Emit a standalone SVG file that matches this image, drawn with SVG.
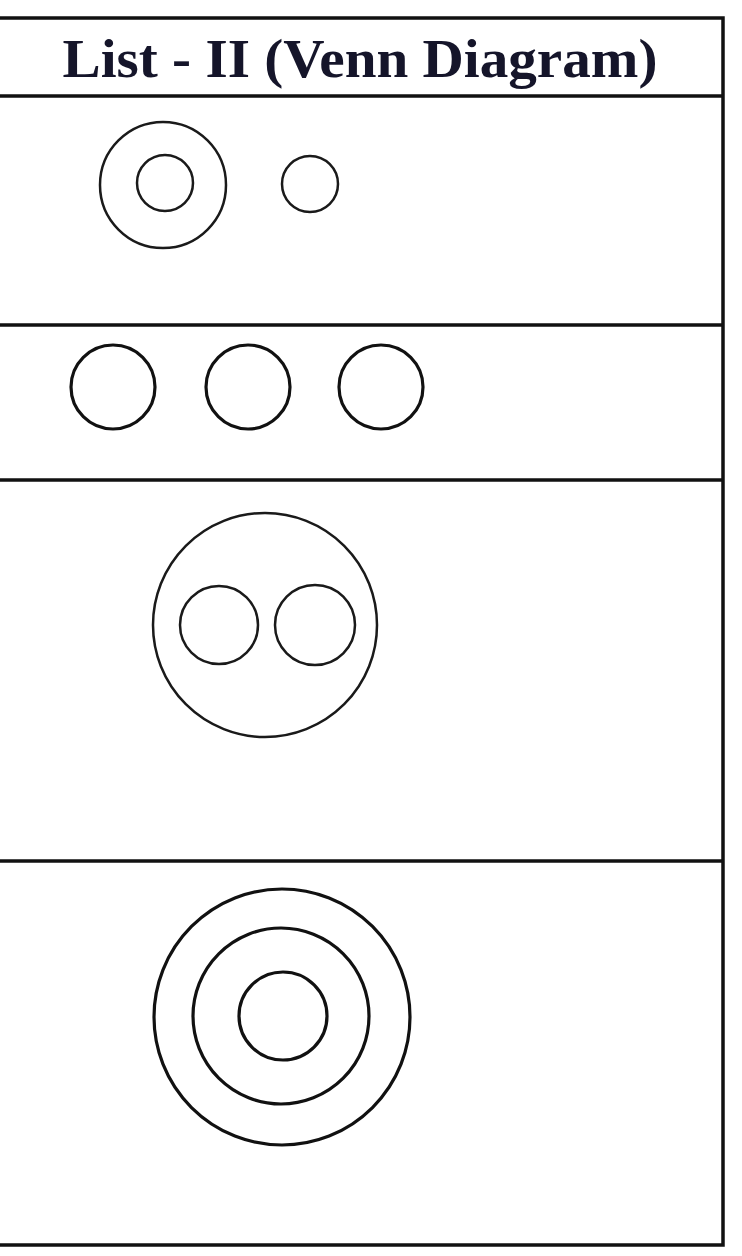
<svg xmlns="http://www.w3.org/2000/svg" width="742" height="1256" viewBox="0 0 742 1256">
<style>
.rule{stroke:#111;stroke-width:3.5;fill:none}
.c{stroke:#1a1a1a;stroke-width:2.5;fill:none}
.ct{stroke:#111;stroke-width:3.2;fill:none}
.hdr{font-family:"Liberation Serif","Times New Roman",serif;font-weight:bold;font-size:54px;fill:#15152a}
</style>
<rect width="742" height="1256" fill="#fff"/>
<g id="connectors">
<path class="rule" d="M0 18 H723 V1245 H0"/>
<line class="rule" x1="0" y1="96" x2="723" y2="96"/>
<line class="rule" x1="0" y1="325" x2="723" y2="325"/>
<line class="rule" x1="0" y1="480" x2="723" y2="480"/>
<line class="rule" x1="0" y1="861" x2="723" y2="861"/>
</g>
<g id="header">
<text class="hdr" x="360" y="77" text-anchor="middle" textLength="595" lengthAdjust="spacingAndGlyphs">List - II (Venn Diagram)</text>
</g>
<g id="row1">
<ellipse class="c" cx="163" cy="185" rx="63" ry="63"/>
<circle class="c" cx="165" cy="183" r="28"/>
<circle class="c" cx="310" cy="184" r="28"/>
</g>
<g id="row2">
<ellipse class="ct" cx="113" cy="387" rx="42" ry="42"/>
<ellipse class="ct" cx="248" cy="387" rx="42" ry="42"/>
<ellipse class="ct" cx="381" cy="387" rx="42" ry="42"/>
</g>
<g id="row3">
<circle class="c" cx="265" cy="625" r="112"/>
<circle class="c" cx="219" cy="625" r="39"/>
<circle class="c" cx="315" cy="625" r="40"/>
</g>
<g id="row4">
<circle class="ct" cx="282" cy="1017" r="128"/>
<circle class="ct" cx="281" cy="1016" r="88"/>
<circle class="ct" cx="283" cy="1016" r="44"/>
</g>
</svg>
